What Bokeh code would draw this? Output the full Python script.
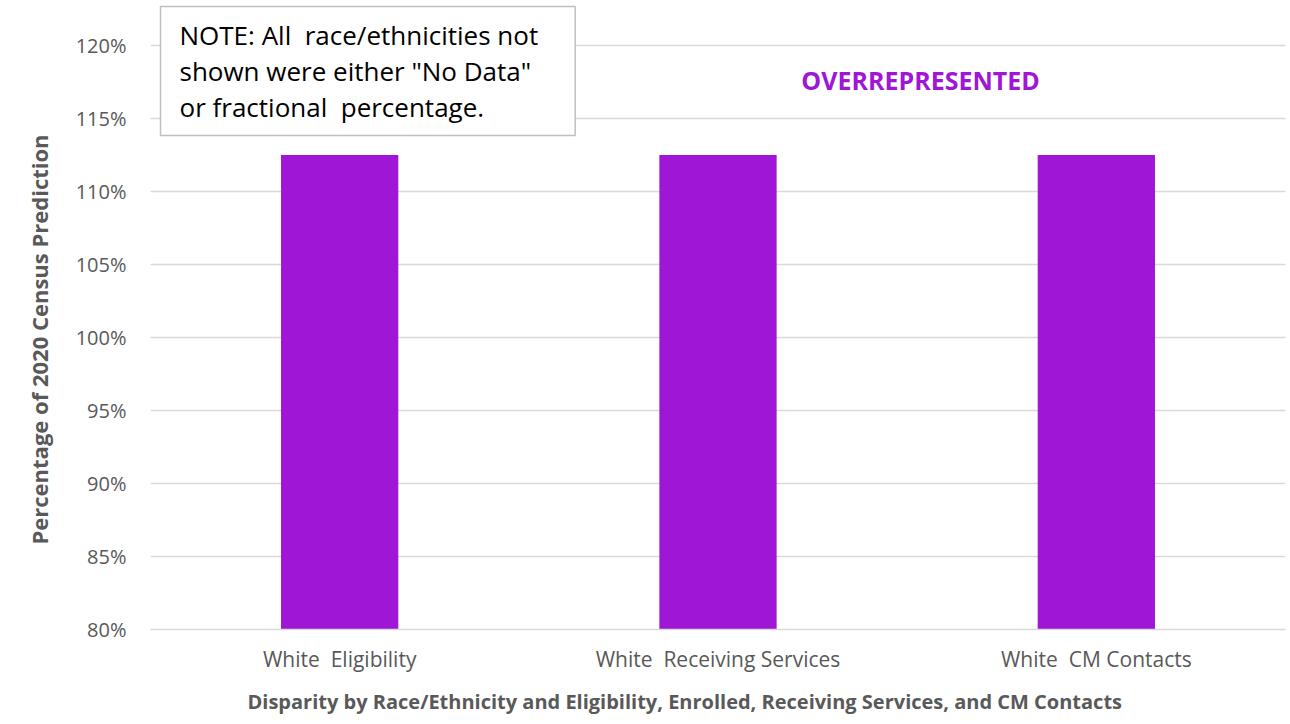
from bokeh.plotting import figure
from bokeh.models import (ColumnDataSource, FactorRange, Range1d, SingleIntervalTicker,
                          PrintfTickFormatter, Label, Title)
from bokeh.embed import file_html
from bokeh.resources import INLINE

# Data
categories = ["White\u00a0 Eligibility", "White\u00a0 Receiving Services", "White\u00a0 CM Contacts"]
percent_of_census = [112.5, 112.5, 112.5]

BAR_COLOR = "#A016D6"
TEXT_GRAY = "#595959"
FONT = "Open Sans"

# The frame runs from the top of the canvas to the 80% baseline (630 px),
# with 120% sitting 45 px below the top edge.
FRAME_H = 630
Y_MIN, Y_TOP_TICK = 80, 120
y_max = Y_TOP_TICK + 45 * (Y_TOP_TICK - Y_MIN) / (FRAME_H - 45)

source = ColumnDataSource(data=dict(cat=categories, val=percent_of_census))

p = figure(
    width=1290, height=724,
    x_range=FactorRange(*categories, range_padding=0.0),
    y_range=Range1d(Y_MIN, y_max),
    output_backend="svg", toolbar_location=None,
    min_border_left=150, min_border_right=5, min_border_top=0, min_border_bottom=94,
)
p.outline_line_color = None

p.vbar(x="cat", top="val", bottom=Y_MIN, width=0.31, source=source,
       fill_color=BAR_COLOR, line_color=None)

# Y axis
p.yaxis.ticker = SingleIntervalTicker(interval=5)
p.yaxis.formatter = PrintfTickFormatter(format="%d%%")
p.yaxis.axis_line_color = None
p.yaxis.major_tick_line_color = None
p.yaxis.minor_tick_line_color = None
p.yaxis.major_label_text_font = FONT
p.yaxis.major_label_text_font_size = "20px"
p.yaxis.major_label_text_color = TEXT_GRAY
p.yaxis.major_label_standoff = 18

p.add_layout(Title(
    text="Percentage of 2020 Census Prediction", align="left", offset=85,
    text_font=FONT, text_font_size="22px", text_font_style="bold",
    text_color=TEXT_GRAY, standoff=38,
), "left")

# X axis
p.xaxis.axis_line_color = "#d9d9d9"
p.xaxis.axis_line_width = 1.5
p.xaxis.major_tick_line_color = None
p.xaxis.minor_tick_line_color = None
p.xaxis.major_label_text_font = FONT
p.xaxis.major_label_text_font_size = "21px"
p.xaxis.major_label_text_color = TEXT_GRAY
p.xaxis.major_label_standoff = 9

p.add_layout(Title(
    text="Disparity by Race/Ethnicity and Eligibility, Enrolled, Receiving Services, and CM Contacts",
    align="left", offset=97,
    text_font=FONT, text_font_size="20px", text_font_style="bold",
    text_color=TEXT_GRAY, standoff=20,
), "below")

# Grid
p.xgrid.grid_line_color = None
p.ygrid.grid_line_color = "#d9d9d9"
p.ygrid.grid_line_width = 1.5

# Overrepresented label (screen offsets from the plot frame's lower-left corner)
p.add_layout(Label(
    x=770, y=FRAME_H - 80, x_units="screen", y_units="screen",
    text="OVERREPRESENTED", text_font=FONT, text_font_size="25px",
    text_font_style="bold", text_color=BAR_COLOR,
    text_align="center", text_baseline="middle",
))

# Note box
note = Label(
    x=10, y=FRAME_H - 7, x_units="screen", y_units="screen",
    text='NOTE: All\u00a0 race/ethnicities not\nshown were either "No Data"\nor fractional\u00a0 percentage.',
    text_font=FONT, text_font_size="26px", text_color="#000000",
    text_align="left", text_baseline="top", text_line_height=1.0,
    background_fill_color="white", border_line_color="#bfbfbf", border_line_width=1.5,
    padding=dict(left=19, right=37, top=10, bottom=11),
)
p.add_layout(note)

open("out.html", "w").write(file_html(p, INLINE))
